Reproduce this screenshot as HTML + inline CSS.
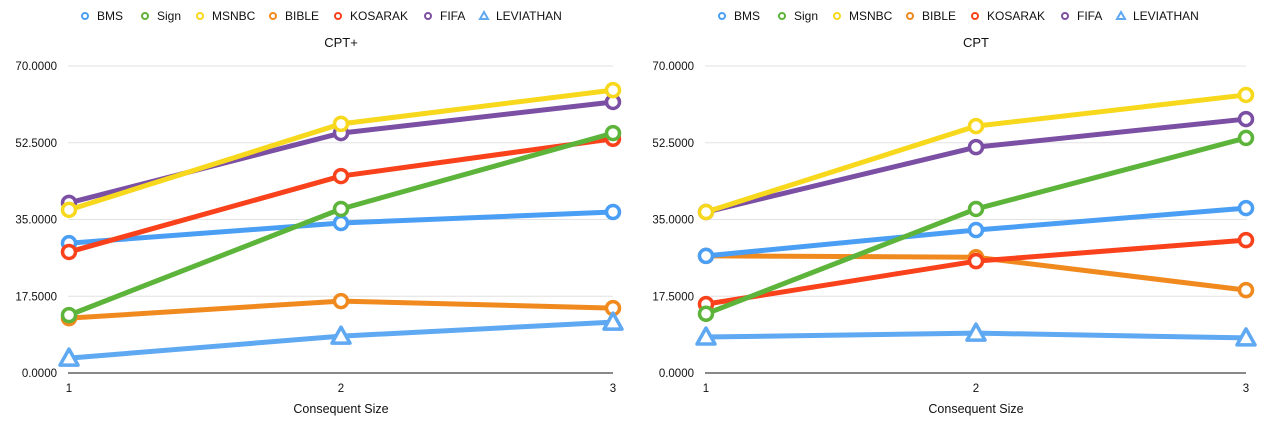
<!DOCTYPE html>
<html><head><meta charset="utf-8"><style>
body{margin:0;background:#fff;font-family:"Liberation Sans",sans-serif;}
svg{display:block}
</style></head><body>
<svg id="c" width="1274" height="427" xmlns="http://www.w3.org/2000/svg"></svg>
<script>
const categories=[1,2,3];
const seriesNames=["BMS","Sign","MSNBC","BIBLE","KOSARAK","FIFA","LEVIATHAN"];
const seriesColors=["#4a9ff5","#5db43a","#f8d81c","#f08a1e","#f9421b","#7b4fa3","#5fa8f2"];
const yTicks=[0,17.5,35,52.5,70];
const cptPlusBMS=[29.6,34.2,36.7];
const cptPlusSign=[13.2,37.4,54.7];
const cptPlusMSNBC=[37.2,56.8,64.5];
const cptPlusBIBLE=[12.5,16.4,14.8];
const cptPlusKOSARAK=[27.6,44.9,53.4];
const cptPlusFIFA=[38.8,54.7,61.8];
const cptPlusLEVIATHAN=[3.4,8.4,11.6];
const cptBMS=[26.7,32.6,37.6];
const cptSign=[13.5,37.4,53.6];
const cptMSNBC=[36.7,56.3,63.4];
const cptBIBLE=[26.7,26.4,18.9];
const cptKOSARAK=[15.7,25.5,30.3];
const cptFIFA=[36.7,51.5,57.9];
const cptLEVIATHAN=[8.2,9.1,8.0];
const drawOrder=[3,6,0,4,1,5,2];

const NS="http://www.w3.org/2000/svg";
const svg=document.getElementById('c');
function mk(tag,attrs,parent){const e=document.createElementNS(NS,tag);for(const k in attrs)e.setAttribute(k,attrs[k]);(parent||svg).appendChild(e);return e;}

function chart(x0,x1,title,data,prefix){
  const yTop=66,yBot=373,yMax=70;
  const xs=v=>x0+(v-1)*(x1-x0)/2;
  const ys=v=>yBot-v/yMax*(yBot-yTop);
  const g=mk('g',{});
  
  
  const lg=mk('g',{},g);
  
  
  const lo=[16,76,131,204,269,359,415];
  seriesNames.forEach((n,i)=>{
    const lx=x0+lo[i];
    const eg=mk('g',{},lg);
    
    
    if(n==="LEVIATHAN"){mk('path',{d:`M${lx-4},${19} L${lx},${12} L${lx+4},${19} Z`,fill:'none',stroke:seriesColors[i],'stroke-width':2},eg);}
    else mk('circle',{cx:lx,cy:16,r:3,fill:'#fff',stroke:seriesColors[i],'stroke-width':2},eg);
    const t=mk('text',{x:lx+12,y:20,'font-size':12,fill:'#111'},eg);t.textContent=n;
  });
  const tt=mk('text',{x:(x0+x1)/2,y:47,'font-size':13,'text-anchor':'middle',fill:'#111'},g);tt.textContent=title;
  
  
  yTicks.forEach(v=>{
    if(v>0){const l=mk('line',{x1:x0-1,x2:x1,y1:ys(v),y2:ys(v),stroke:'#e2e2e2','stroke-width':1},g);
      
      }
    const t=mk('text',{x:x0-12,y:ys(v)+4,'font-size':11.5,'text-anchor':'end',fill:'#111'},g);t.textContent=v.toFixed(4);
    
    
  });
  const ax=mk('line',{x1:x0-1,x2:x1,y1:yBot,y2:yBot,stroke:'#111','stroke-width':1},g);
  
  
  categories.forEach(c=>{const t=mk('text',{x:xs(c),y:392,'font-size':11.5,'text-anchor':'middle',fill:'#111'},g);t.textContent=c;
    
    });
  const xt=mk('text',{x:(x0+x1)/2,y:413,'font-size':12.5,'text-anchor':'middle',fill:'#111'},g);xt.textContent='Consequent Size';
  
  
  drawOrder.forEach(i=>{
    const vals=data[i],col=seriesColors[i];
    const sg=mk('g',{},g);
    
    
    mk('polyline',{points:vals.map((v,k)=>xs(categories[k])+','+ys(v)).join(' '),fill:'none',stroke:col,'stroke-width':5,'stroke-linejoin':'round'},sg);
    vals.forEach((v,k)=>{
      const cx=xs(categories[k]),cy=ys(v);let m;
      if(seriesNames[i]==="LEVIATHAN") m=mk('path',{d:`M${cx-9},${cy+7} L${cx},${cy-9} L${cx+9},${cy+7} Z`,fill:'#fff',stroke:col,'stroke-width':3.5,'stroke-linejoin':'round'},sg);
      else m=mk('circle',{cx:cx,cy:cy,r:6.5,fill:'#fff',stroke:col,'stroke-width':3.5},sg);
      
      
    });
  });
}
chart(69,613,'CPT+',[cptPlusBMS,cptPlusSign,cptPlusMSNBC,cptPlusBIBLE,cptPlusKOSARAK,cptPlusFIFA,cptPlusLEVIATHAN],'cpt-plus');
chart(706,1246,'CPT',[cptBMS,cptSign,cptMSNBC,cptBIBLE,cptKOSARAK,cptFIFA,cptLEVIATHAN],'cpt');
</script>
</body></html>
